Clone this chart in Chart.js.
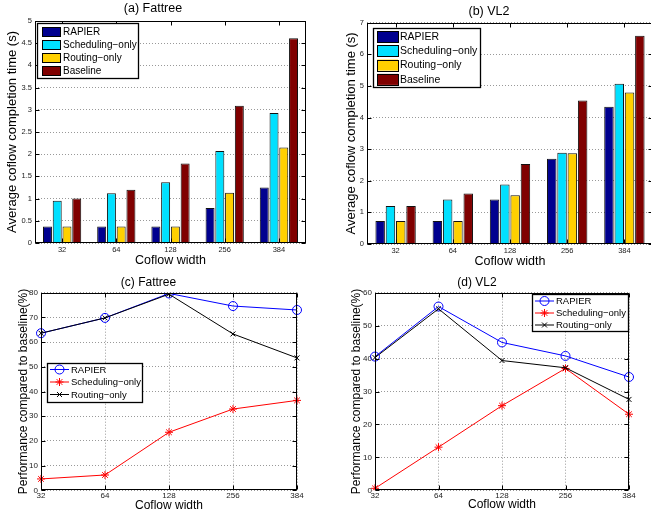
<!DOCTYPE html>
<html>
<head>
<meta charset="utf-8">
<script src="https://cdn.jsdelivr.net/npm/chart.js@4.4.1/dist/chart.umd.min.js"></script>
<style>
html,body{margin:0;padding:0;background:#fff;width:651px;height:515px;overflow:hidden;}
#wrap{position:relative;width:651px;height:515px;overflow:hidden;background:#fff;}
canvas{position:absolute;display:block;}
</style>
</head>
<body>
<div id="wrap">
<canvas id="ca" width="340" height="270" style="left:0px;top:0px;width:340px;height:270px"></canvas>
<canvas id="cb" width="354" height="270" style="left:325px;top:0px;width:354px;height:270px"></canvas>
<canvas id="cc" width="340" height="245" style="left:0px;top:270px;width:340px;height:245px"></canvas>
<canvas id="cd" width="354" height="245" style="left:325px;top:270px;width:354px;height:245px"></canvas>
</div>
<script>
// ---------------- DATA ----------------
const coflowWidths = ['32', '64', '128', '256', '384'];
const barSeriesNames = ['RAPIER', 'Scheduling\u2212only', 'Routing\u2212only', 'Baseline'];
const lineSeriesNames = ['RAPIER', 'Scheduling\u2212only', 'Routing\u2212only'];

// (a) Fattree - average coflow completion time (s)
const fattreeRapier     = [0.37, 0.37, 0.37, 0.79, 1.25];
const fattreeScheduling = [0.95, 1.12, 1.37, 2.07, 2.93];
const fattreeRouting    = [0.37, 0.37, 0.37, 1.13, 2.15];
const fattreeBaseline   = [1.00, 1.20, 1.79, 3.09, 4.61];

// (b) VL2 - average coflow completion time (s)
const vl2Rapier     = [0.73, 0.73, 1.41, 2.70, 4.34];
const vl2Scheduling = [1.20, 1.41, 1.88, 2.89, 5.07];
const vl2Routing    = [0.73, 0.73, 1.54, 2.87, 4.79];
const vl2Baseline   = [1.20, 1.60, 2.53, 4.54, 6.59];

// (c) Fattree - performance compared to baseline (%)
const fattreePerfRapier     = [63.6, 69.8, 79.7, 74.6, 73.0];
const fattreePerfScheduling = [4.6, 6.2, 23.5, 32.9, 36.4];
const fattreePerfRouting    = [63.6, 69.8, 79.4, 63.3, 53.6];

// (d) VL2 - performance compared to baseline (%)
const vl2PerfRapier     = [40.6, 55.8, 44.9, 40.8, 34.4];
const vl2PerfScheduling = [0.6, 13.1, 25.7, 37.0, 23.1];
const vl2PerfRouting    = [40.3, 55.1, 39.4, 37.2, 27.6];

// ---------------- STYLE ----------------
const FONT = '"Liberation Sans", Arial, Helvetica, sans-serif';
const barColors = ['#00008F', '#00E0FF', '#FFD000', '#800000'];
const lineColors = ['#0000FF', '#FF0000', '#000000'];
const linePointStyles = ['circle', 'star', 'crossRot'];
const linePointRadius = [4.5, 4, 3.5];

const framePlugin = {
  id: 'mframe',
  afterDraw(chart, args, opts) {
    const ctx = chart.ctx;
    const a = chart.chartArea;
    const xs = chart.scales.x, ys = chart.scales.y;
    ctx.save();
    ctx.strokeStyle = '#000';
    ctx.lineWidth = 1;
    const L = 4;
    const l = Math.round(a.left) + 0.5, r = Math.round(a.right) - 0.5;
    const t = Math.round(a.top) + 0.5, b = Math.round(a.bottom) - 0.5;
    ctx.beginPath();
    xs.ticks.forEach((tk, i) => {
      const px = Math.round(xs.getPixelForTick(i)) + 0.5;
      ctx.moveTo(px, b); ctx.lineTo(px, b - L);
      ctx.moveTo(px, t); ctx.lineTo(px, t + L);
    });
    ys.ticks.forEach((tk, i) => {
      const py = Math.round(ys.getPixelForTick(i)) + 0.5;
      ctx.moveTo(l, py); ctx.lineTo(l + L, py);
      ctx.moveTo(r, py); ctx.lineTo(r - L, py);
    });
    ctx.stroke();
    ctx.strokeRect(l, t, r - l, b - t);

    // legend inside the axes
    const lg = opts.legend;
    if (lg) {
      ctx.fillStyle = '#fff';
      ctx.fillRect(lg.x, lg.y, lg.w, lg.h);
      ctx.lineWidth = 1.3;
      ctx.strokeStyle = '#000';
      ctx.strokeRect(lg.x + 0.5, lg.y + 0.5, lg.w, lg.h);
      ctx.font = lg.fontSize + 'px ' + FONT;
      ctx.textBaseline = 'middle';
      ctx.textAlign = 'left';
      chart.data.datasets.forEach((ds, i) => {
        const cy = lg.y + lg.row0 + i * lg.rowStep;
        if (lg.kind === 'bar') {
          ctx.fillStyle = ds.backgroundColor;
          ctx.fillRect(lg.x + lg.sx, cy - lg.sh / 2, lg.sw, lg.sh);
          ctx.lineWidth = 1;
          ctx.strokeStyle = '#000';
          ctx.strokeRect(Math.round(lg.x + lg.sx) + 0.5, Math.round(cy - lg.sh / 2) + 0.5, lg.sw, lg.sh);
        } else {
          ctx.lineWidth = 1;
          ctx.strokeStyle = ds.borderColor;
          ctx.beginPath();
          ctx.moveTo(lg.x + lg.sx, cy);
          ctx.lineTo(lg.x + lg.sx + lg.sw, cy);
          ctx.stroke();
          const mx = lg.x + lg.sx + lg.sw / 2;
          ctx.fillStyle = 'rgba(0,0,0,0)';
          if (Chart.helpers && Chart.helpers.drawPoint) {
            Chart.helpers.drawPoint(ctx, {pointStyle: ds.pointStyle, radius: ds.pointRadius, rotation: 0, borderWidth: 1}, mx, cy);
          } else {
            ctx.beginPath(); ctx.arc(mx, cy, ds.pointRadius, 0, Math.PI * 2); ctx.stroke();
          }
        }
        ctx.fillStyle = '#000';
        ctx.fillText(ds.label, lg.x + lg.tx, cy + 0.5);
      });
    }
    ctx.restore();
  }
};

function fmtTick(v) {
  return String(Math.round(v * 10) / 10);
}

function makeChart(id, kind, g, labels, names, seriesList, titleText, yTitle, yMax, yStep) {
  const datasets = seriesList.map((vals, i) => {
    if (kind === 'bar') {
      return {
        label: names[i], data: vals,
        backgroundColor: barColors[i], borderColor: '#111', borderWidth: 1,
        borderSkipped: 'start',
        categoryPercentage: 0.72, barPercentage: 0.92
      };
    }
    return {
      label: names[i], data: vals,
      borderColor: lineColors[i], backgroundColor: lineColors[i],
      borderWidth: 1, tension: 0, fill: false,
      pointStyle: linePointStyles[i], pointRadius: linePointRadius[i],
      pointBorderWidth: 1, pointBorderColor: lineColors[i],
      pointBackgroundColor: 'rgba(0,0,0,0)',
      order: i === 2 ? -1 : i
    };
  });
  const dash = [1, 2];
  return new Chart(document.getElementById(id), {
    type: kind,
    data: {labels: labels, datasets: datasets},
    plugins: [framePlugin],
    options: {
      responsive: false,
      animation: false,
      events: [],
      layout: {padding: {left: 0, top: 0, right: g.padRight, bottom: 0}},
      plugins: {
        legend: {display: false},
        tooltip: {enabled: false},
        title: {
          display: true, text: titleText, color: '#000', fullSize: true,
          font: {family: FONT, size: g.titleSize, weight: 'normal'},
          padding: {top: g.titleTop, bottom: g.titleBottom}
        },
        mframe: {legend: g.legend}
      },
      scales: {
        x: {
          type: 'category',
          offset: kind === 'bar',
          afterFit: s => { s.height = g.xH; },
          grid: {display: kind !== 'bar', drawTicks: false, color: '#999', lineWidth: 1},
          border: {display: false, dash: dash},
          ticks: {color: '#222', font: {family: FONT, size: g.tickSize}, padding: g.xTickPad, maxRotation: 0, autoSkip: false},
          title: {display: true, text: 'Coflow width', color: '#000', font: {family: FONT, size: g.xTitleSize}, padding: {top: 0, bottom: g.xTitlePad}}
        },
        y: {
          type: 'linear', min: 0, max: yMax,
          afterFit: s => { s.width = g.yW; },
          grid: {display: true, drawTicks: false, color: '#999', lineWidth: 1},
          border: {display: false, dash: dash},
          ticks: {stepSize: yStep, color: '#222', font: {family: FONT, size: g.tickSize}, padding: 3, callback: fmtTick},
          title: {display: true, text: yTitle, color: '#000', font: {family: FONT, size: g.yTitleSize}, padding: {top: g.yTitlePad, bottom: 0}}
        }
      }
    }
  });
}

const ctTitle = 'Average coflow completion time (s)';
const perfTitle = 'Performance compared to baseline(%)';

makeChart('ca', 'bar', {
  padRight: 34, yW: 35, xH: 27, titleSize: 12.5, titleTop: 1, titleBottom: 5,
  tickSize: 7.5, xTickPad: 2, xTitleSize: 12.5, xTitlePad: 1.5, yTitleSize: 13, yTitlePad: 4.2,
  legend: {kind: 'bar', x: 37, y: 23, w: 101, h: 55, row0: 8.5, rowStep: 13, sx: 5, sw: 18, sh: 9, tx: 26, fontSize: 10}
}, coflowWidths, barSeriesNames,
  [fattreeRapier, fattreeScheduling, fattreeRouting, fattreeBaseline],
  '(a) Fattree', ctTitle, 5, 0.5);

makeChart('cb', 'bar', {
  padRight: 26, yW: 42, xH: 26, titleSize: 12.5, titleTop: 4.5, titleBottom: 3.2,
  tickSize: 7.5, xTickPad: 2, xTitleSize: 12.5, xTitlePad: 0.5, yTitleSize: 13, yTitlePad: 18.2,
  legend: {kind: 'bar', x: 48, y: 28, w: 107, h: 59, row0: 8.5, rowStep: 14.3, sx: 4, sw: 21, sh: 11, tx: 27, fontSize: 10.5}
}, coflowWidths, barSeriesNames,
  [vl2Rapier, vl2Scheduling, vl2Routing, vl2Baseline],
  '(b) VL2', ctTitle, 7, 1);

makeChart('cc', 'line', {
  padRight: 43, yW: 41, xH: 24.7, titleSize: 12, titleTop: 5.3, titleBottom: 3,
  tickSize: 8, xTickPad: 1, xTitleSize: 12, xTitlePad: 2.3, yTitleSize: 12, yTitlePad: 16.8,
  legend: {kind: 'line', x: 47, y: 93, w: 95, h: 39, row0: 6.5, rowStep: 12.5, sx: 3, sw: 19, tx: 24, fontSize: 9.5}
}, coflowWidths, lineSeriesNames,
  [fattreePerfRapier, fattreePerfScheduling, fattreePerfRouting],
  '(c) Fattree', perfTitle, 80, 10);

makeChart('cd', 'line', {
  padRight: 50, yW: 50, xH: 24.7, titleSize: 12, titleTop: 5.3, titleBottom: 3,
  tickSize: 8, xTickPad: 1, xTitleSize: 12, xTitlePad: 2.8, yTitleSize: 12, yTitlePad: 24.8,
  legend: {kind: 'line', x: 207, y: 24, w: 96, h: 37, row0: 7, rowStep: 12, sx: 3, sw: 19, tx: 24, fontSize: 9.5}
}, coflowWidths, lineSeriesNames,
  [vl2PerfRapier, vl2PerfScheduling, vl2PerfRouting],
  '(d) VL2', perfTitle, 60, 10);
</script>
</body>
</html>
